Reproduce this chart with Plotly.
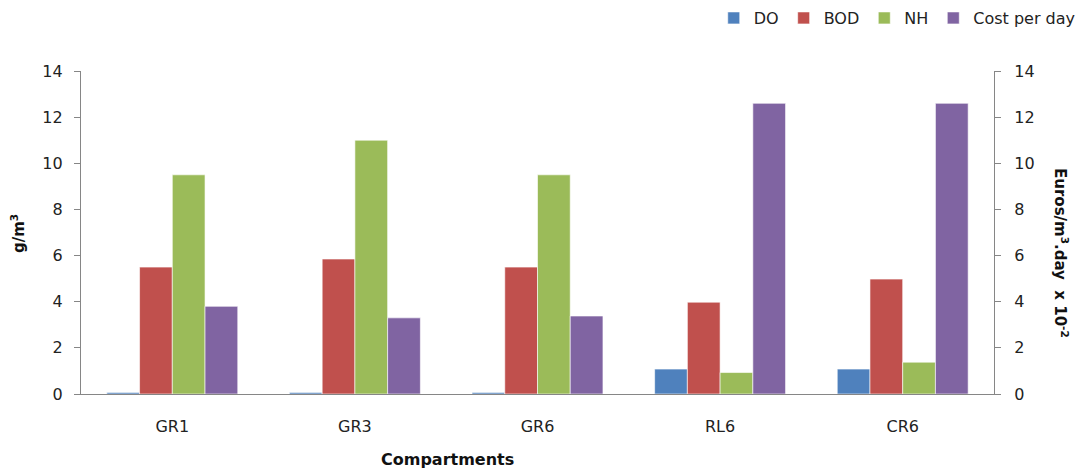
import plotly.graph_objects as go

categories = ["GR1", "GR3", "GR6", "RL6", "CR6"]
do_vals = [0.07, 0.07, 0.07, 1.08, 1.08]
bod_vals = [5.5, 5.85, 5.5, 3.98, 4.98]
nh_vals = [9.5, 11.0, 9.5, 0.93, 1.38]
cost_vals = [3.8, 3.3, 3.38, 12.6, 12.6]

colors = {"DO": "#4F81BD", "BOD": "#C0504D", "NH": "#9BBB59", "Cost per day": "#8064A2"}
font_family = "'DejaVu Sans', Verdana, sans-serif"

fig = go.Figure()
series = [("DO", do_vals, "y"), ("BOD", bod_vals, "y"), ("NH", nh_vals, "y"), ("Cost per day", cost_vals, "y2")]
for i, (name, vals, ax) in enumerate(series):
    fig.add_trace(go.Bar(
        x=categories, y=vals, name=name, yaxis=ax,
        marker=dict(color=colors[name], line=dict(color="white", width=0.6)),
        offsetgroup=str(i), alignmentgroup="g",
    ))

axis_color = "#868686"
fig.update_layout(
    width=1081, height=474,
    margin=dict(l=81, r=87, t=71, b=80, autoexpand=False),
    paper_bgcolor="white", plot_bgcolor="white",
    barmode="group", bargap=0.283, bargroupgap=0,
    font=dict(family=font_family, size=16, color="#222222"),
    showlegend=True,
    legend=dict(orientation="h", x=1.095, xanchor="right", y=1.164, yanchor="middle",
                font=dict(size=16, color="#222222"), itemwidth=30, traceorder="normal",
                tracegroupgap=0, bgcolor="rgba(0,0,0,0)"),
    xaxis=dict(showline=True, linecolor=axis_color, linewidth=1.3, ticks="", showgrid=False,
               tickfont=dict(size=16), ticklabelstandoff=18),
    yaxis=dict(range=[0, 14], dtick=2, showline=True, linecolor=axis_color, linewidth=1.3,
               ticks="outside", ticklen=6, tickcolor=axis_color, showgrid=False, zeroline=False,
               tickfont=dict(size=16), ticklabelstandoff=8),
    yaxis2=dict(range=[0, 14], dtick=2, overlaying="y", side="right", showline=True,
                linecolor=axis_color, linewidth=1.3, ticks="outside", ticklen=6,
                tickcolor=axis_color, showgrid=False, zeroline=False, tickfont=dict(size=16),
                ticklabelstandoff=10),
)

fig.add_annotation(text="<b>g/m<sup>3</sup></b>", xref="paper", yref="paper",
                   x=-0.069, y=(394 - 234) / 323, textangle=-90, showarrow=False,
                   font=dict(size=15, color="#111111"), xanchor="center", yanchor="middle")
fig.add_annotation(text="<b>Euros/m<sup>3</sup>.day  x 10<sup>-2</sup></b>", xref="paper", yref="paper",
                   x=(1061 - 81) / 913, y=(394 - 253) / 323, textangle=90, showarrow=False,
                   font=dict(size=15, color="#111111"), xanchor="center", yanchor="middle")
fig.add_annotation(text="<b>Compartments</b>", xref="paper", yref="paper",
                   x=(447 - 81) / 913, y=-(459 - 394) / 323, showarrow=False,
                   font=dict(size=16, color="#111111"), xanchor="center", yanchor="middle")

fig.write_html("out.html", config={"displayModeBar": False},
               post_script="document.body.style.margin='0';document.body.style.overflow='hidden';")
